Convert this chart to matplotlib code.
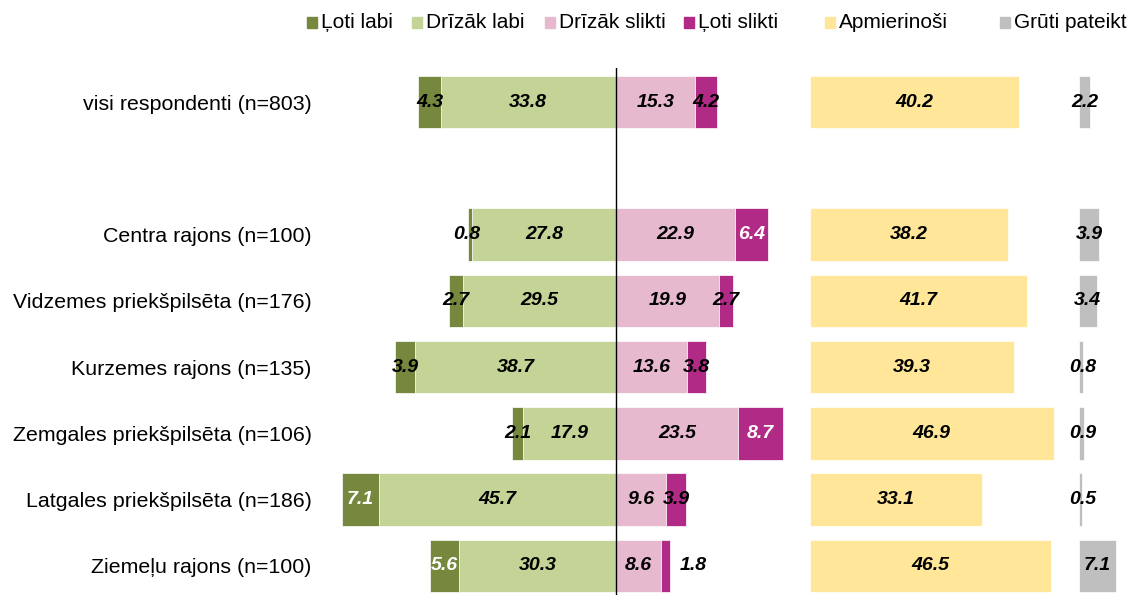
import matplotlib
matplotlib.use("Agg")
import matplotlib.pyplot as plt
from matplotlib.patches import Rectangle

plt.rcParams['font.family'] = ['Liberation Sans', 'DejaVu Sans']

# data
groups = ['visi respondenti (n=803)', 'Centra rajons (n=100)', 'Vidzemes priekšpilsēta (n=176)',
          'Kurzemes rajons (n=135)', 'Zemgales priekšpilsēta (n=106)', 'Latgales priekšpilsēta (n=186)',
          'Ziemeļu rajons (n=100)']
loti_labi = [4.3, 0.8, 2.7, 3.9, 2.1, 7.1, 5.6]
drizak_labi = [33.8, 27.8, 29.5, 38.7, 17.9, 45.7, 30.3]
drizak_slikti = [15.3, 22.9, 19.9, 13.6, 23.5, 9.6, 8.6]
loti_slikti = [4.2, 6.4, 2.7, 3.8, 8.7, 3.9, 1.8]
apmierinosi = [40.2, 38.2, 41.7, 39.3, 46.9, 33.1, 46.5]
gruti = [2.2, 3.9, 3.4, 0.8, 0.9, 0.5, 7.1]
legend_names = ['Ļoti labi', 'Drīzāk labi', 'Drīzāk slikti', 'Ļoti slikti', 'Apmierinoši', 'Grūti pateikt']

colors = ['#76883e', '#c4d496', '#e6b9ce', '#b02a86', '#ffe699', '#bfbfbf']
ypos = [0, 2, 3, 4, 5, 6, 7]
apm_off = 37.4
gru_off = 89.2
h = 0.79

fig = plt.figure(figsize=(11.4, 5.95), dpi=100)
ax = fig.add_axes([320/1140, 0, 820/1140, (595-68)/595])

def label(x, y, v, col='black'):
    ax.text(x, y, '{:.1f}'.format(v), ha='center', va='center', fontsize=14,
            fontweight='bold', fontstyle='italic', color=col)

white_lbl = {(1, 3), (4, 3), (5, 0), (6, 0)}
for i, y in enumerate(ypos):
    ax.barh(y, -drizak_labi[i], height=h, color=colors[1], edgecolor='white', lw=0.5)
    ax.barh(y, -loti_labi[i], left=-drizak_labi[i], height=h, color=colors[0], edgecolor='white', lw=0.5)
    ax.barh(y, drizak_slikti[i], height=h, color=colors[2], edgecolor='white', lw=0.5)
    ax.barh(y, loti_slikti[i], left=drizak_slikti[i], height=h, color=colors[3], edgecolor='white', lw=0.5)
    ax.barh(y, apmierinosi[i], left=apm_off, height=h, color=colors[4], edgecolor='white', lw=0.5)
    ax.barh(y, gruti[i], left=gru_off, height=h, color=colors[5], edgecolor='white', lw=0.5)

    label(-drizak_labi[i] - max(loti_labi[i], 2.0)/2, y, loti_labi[i], 'white' if (i, 0) in white_lbl else 'black')
    label(-drizak_labi[i]/2, y, drizak_labi[i])
    label(drizak_slikti[i]/2, y, drizak_slikti[i])
    if loti_slikti[i] < 2:
        label(drizak_slikti[i] + loti_slikti[i] + 4.5, y, loti_slikti[i])
    else:
        label(drizak_slikti[i] + loti_slikti[i]/2, y, loti_slikti[i],
              'white' if (i, 3) in white_lbl else 'black')
    label(apm_off + apmierinosi[i]/2, y, apmierinosi[i])
    label(gru_off + max(gruti[i], 1.6)/2, y, gruti[i])

ax.axvline(0, color='black', lw=1)
ax.set_xlim(-(616-320)/5.19, (1140-616)/5.19)
ax.set_ylim(7 + (595-566)/66, -(102-68)/66)
ax.set_yticks(ypos)
ax.set_yticklabels(groups, fontsize=15.4)
ax.tick_params(axis='y', length=0, pad=6)
ax.set_xticks([])
for s in ax.spines.values():
    s.set_visible(False)

# legend
leg_x = [307, 412, 545, 684, 825, 1000]
for xp, c, nm in zip(leg_x, colors, legend_names):
    fig.patches.append(Rectangle((xp/1140, 1 - 28/595), 10/1140, 11/595,
                                 transform=fig.transFigure, color=c))
    fig.text((xp + 14)/1140, 1 - 22.5/595, nm, fontsize=15, va='center', ha='left')

fig.savefig('out.png', dpi=100)
